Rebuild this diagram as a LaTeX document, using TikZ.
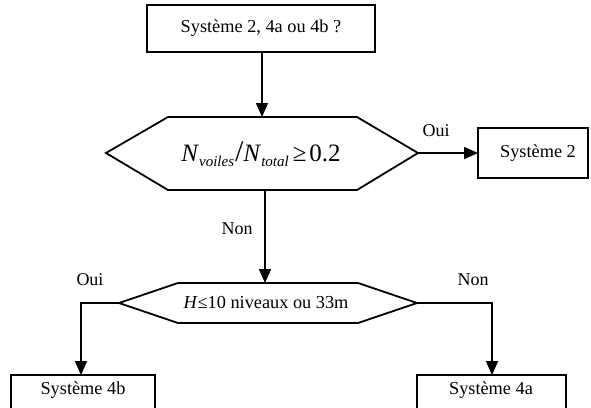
\documentclass[tikz,border=0pt]{standalone}
\usepackage{fontspec}
\setmainfont{Liberation Serif}
\usetikzlibrary{arrows.meta}
\begin{document}
\begin{tikzpicture}[x=1pt,y=-1pt,
  line/.style={line width=1.8pt},
  arr/.style={line width=1.8pt,-{Triangle[length=14pt,width=12pt]}},
  boxtxt/.style={font=\fontsize{18.3}{20}\selectfont},
  lbl/.style={font=\fontsize{18}{20}\selectfont}]
\useasboundingbox (0,0) rectangle (591,407);
% boxes
\draw[line] (147,5) rectangle (375,52);
\node[boxtxt] (q) at (261,28.5) {Système 2, 4a ou 4b ?};
\coordinate (qs) at (262,52);
\draw[line] (478,128) rectangle (588,178);
\node[boxtxt] (s2) at (538,153) {Système 2};
\coordinate (s2w) at (478,153);
\draw[line] (11,375) rectangle (155,412);
\node[boxtxt] (s4b) at (83,390) {Système 4b};
\coordinate (s4bn) at (81,375);
\draw[line] (417,375) rectangle (566,412);
\node[boxtxt] (s4a) at (491,390) {Système 4a};
\coordinate (s4an) at (492,375);
% hexagon 1
\coordinate (h1w) at (106,153);
\coordinate (h1e) at (418,153);
\coordinate (h1n) at (262,117);
\coordinate (h1s) at (265,190);
\draw[line,line join=miter] (h1w) -- (168,117) -- (357,117) -- (h1e) -- (357,190) -- (168,190) -- cycle;
\node (h1) at (261,154) {\fontsize{25}{27}\selectfont\textit{N}\raisebox{-0.45ex}{\fontsize{15}{16}\selectfont\textit{voiles}}\hspace{1pt}{\fontsize{30}{30}\selectfont/}\textit{N}\raisebox{-0.45ex}{\fontsize{15}{16}\selectfont\textit{total}}\hspace{4pt}≥\hspace{3pt}0.2};
% hexagon 2
\coordinate (h2w) at (119,303);
\coordinate (h2e) at (417,303);
\coordinate (h2n) at (265,283);
\draw[line,line join=miter] (h2w) -- (178,283) -- (358,283) -- (h2e) -- (358,323) -- (178,323) -- cycle;
\node[boxtxt] (h2) at (266,302) {\textit{H}≤10 niveaux ou 33m};
% connectors
\draw[arr] (qs) -- (h1n);
\draw[arr] (h1e) -- (s2w);
\draw[arr] (h1s) -- (h2n);
\draw[arr] (h2w) -| (s4bn);
\draw[arr] (h2e) -| (s4an);
% labels
\node[lbl] (l1) at (436,131) {Oui};
\node[lbl] (l2) at (237,229) {Non};
\node[lbl] (l3) at (90,280) {Oui};
\node[lbl] (l4) at (473,280) {Non};
\end{tikzpicture}
\end{document}
